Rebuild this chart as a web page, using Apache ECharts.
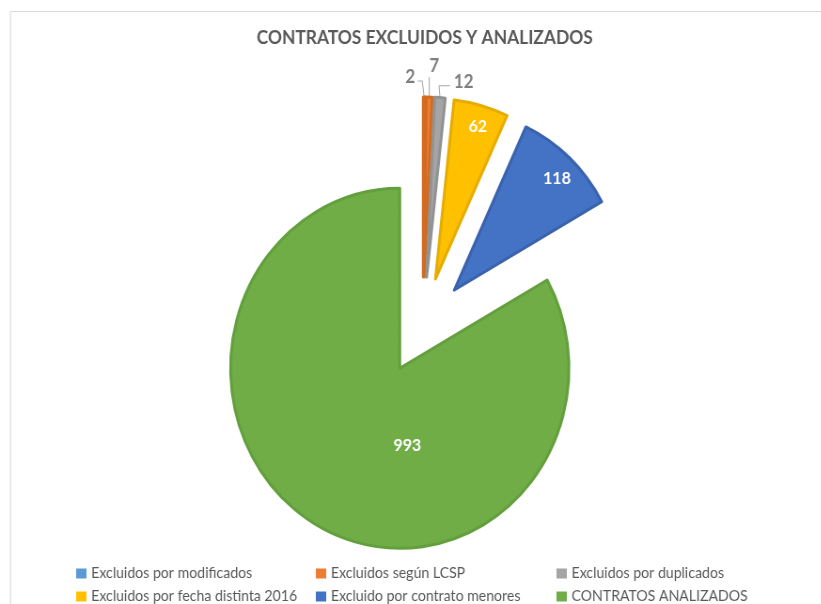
<!DOCTYPE html>
<html><head><meta charset="utf-8">
<script src="https://cdn.jsdelivr.net/npm/echarts@6/dist/echarts.min.js"></script>
<style>html,body{margin:0;padding:0;background:#fff;overflow:hidden}
#wrap{width:821px;height:604px;overflow:hidden;position:relative}
#c{width:873px;height:604px;transform:scaleX(0.94);transform-origin:0 0;position:absolute;left:0;top:0}</style>
</head><body><div id="wrap"><div id="c"></div></div>
<script>
const titleText = 'CONTRATOS EXCLUIDOS Y ANALIZADOS';
const categories = ['Excluidos por modificados','Excluidos según LCSP','Excluidos por duplicados','Excluidos por fecha distinta 2016','Excluido por contrato menores','CONTRATOS ANALIZADOS'];
const values = [2, 7, 12, 62, 118, 993];
const colors = ['#5B9BD5','#ED7D31','#A5A5A5','#FFC000','#4472C4','#70AD47'];
const borders = ['#D26A20','#D26A20','#929292','#E6AC00','#3A63AE','#63A03D'];
const outside = [true, true, true, false, false, false];
const lineMode = ['left', 'up', 'right', null, null, null];
const labelShift = [[-31,-12],[-11,-23],[3,-8],[20,-63],[46,-43],[55,-3]];

const chart = echarts.init(document.getElementById('c'), null, {renderer:'canvas'});
const data = categories.map((n,i)=>({
  name:n, value:values[i], selected: true,
  itemStyle:{color:colors[i], borderColor:borders[i], borderWidth:3},
  label: outside[i] ? {position:'outside', color:'#7F7F7F', fontSize:18, fontWeight:'bold'} :
                      {position:'inside', color:'#fff', fontSize:17, fontWeight:'bold'},
  labelLine: {show: outside[i], lineStyle:{color:'#A6A6A6', width:1}, length:8, length2:6}
}));
const legendFont = {fontFamily:'Lato', fontSize:15, color:'#595959'};
const mkLegend = (left, names) => ({
  orient:'vertical', left:left, top:566, itemWidth:11, itemHeight:10, itemGap:8,
  icon:'rect', data:names, textStyle:legendFont, selectedMode:false, padding:0,
  itemStyle:{borderWidth:0}
});
function layoutLabel(p){
  const i = p.dataIndex, s = labelShift[i];
  if (!outside[i] || !p.labelLinePoints) return {dx:s[0], dy:s[1]};
  const L = p.labelRect;
  const nx = L.x + s[0], ny = L.y + s[1];
  const cy = ny + L.height / 2;
  const p0 = p.labelLinePoints[0];
  let pts;
  if (lineMode[i] === 'left') {
    pts = [[p0[0], p0[1]], [p0[0] - 2, cy + 4], [nx + L.width + 3, cy + 4]];
  } else if (lineMode[i] === 'right') {
    pts = [[p0[0], p0[1]], [p0[0] - 1, cy + 4], [nx - 4, cy + 4]];
  } else {
    pts = [[p0[0], p0[1]], [p0[0], cy + 11]];
  }
  return {dx:s[0], dy:s[1], labelLinePoints:pts};
}
chart.setOption({
  animation:false,
  backgroundColor:'#fff',
  title:{text:titleText, left:268, top:24, textStyle:{fontFamily:'Lato', fontSize:18.5, fontWeight:'bold', color:'#595959'}},
  legend:[mkLegend(81,[categories[0],categories[3]]), mkLegend(336,[categories[1],categories[4]]), mkLegend(592,[categories[2],categories[5]])],
  graphic:[
    {type:'line', shape:{x1:11.2,y1:11.5,x2:873,y2:11.5}, style:{stroke:'#D9D9D9', lineWidth:1}},
    {type:'line', shape:{x1:11.2,y1:11.5,x2:11.2,y2:604}, style:{stroke:'#D9D9D9', lineWidth:1.06}}
  ],
  series:[{
    type:'pie', center:[450,326], radius:180, startAngle:90, clockwise:true,
    selectedMode:'multiple', selectedOffset:49, avoidLabelOverlap:false,
    emphasis:{disabled:true}, silent:true,
    label:{show:true, formatter:'{c}', fontFamily:'Lato'},
    labelLayout: layoutLabel,
    data:data
  }]
});
</script></body></html>
